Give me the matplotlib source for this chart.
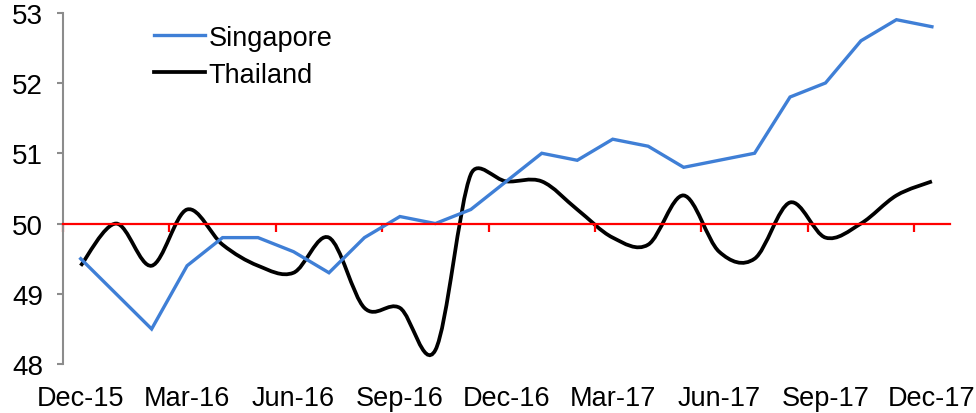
import numpy as np
import matplotlib
matplotlib.use("Agg")
import matplotlib.pyplot as plt
from matplotlib.path import Path
from matplotlib.patches import PathPatch
from matplotlib.lines import Line2D

plt.rcParams['font.family'] = ['Liberation Sans', 'DejaVu Sans']

months = ["Dec-15", "Jan-16", "Feb-16", "Mar-16", "Apr-16", "May-16", "Jun-16",
          "Jul-16", "Aug-16", "Sep-16", "Oct-16", "Nov-16", "Dec-16",
          "Jan-17", "Feb-17", "Mar-17", "Apr-17", "May-17", "Jun-17",
          "Jul-17", "Aug-17", "Sep-17", "Oct-17", "Nov-17", "Dec-17"]
singapore = [49.5, 49.0, 48.5, 49.4, 49.8, 49.8, 49.6, 49.3, 49.8, 50.1, 50.0, 50.2,
             50.6, 51.0, 50.9, 51.2, 51.1, 50.8, 50.9, 51.0, 51.8, 52.0, 52.6, 52.9, 52.8]
thailand = [49.4, 50.0, 49.4, 50.2, 49.7, 49.4, 49.3, 49.8, 48.8, 48.8, 48.2, 50.7,
            50.6, 50.6, 50.2, 49.8, 49.7, 50.4, 49.6, 49.5, 50.3, 49.8, 50.0, 50.4, 50.6]
label_every = 3
ref_level = 50


def smooth_path(ax, x, y):
    """
    Bezier path close to Excel's smoothed line: Catmull-Rom tangents (1/6),
    limited to half the segment length, worked out in pixel space.
    """
    pts = ax.transData.transform(np.column_stack([x, y]).astype(float))
    ext = np.vstack([pts[0], pts, pts[-1]])
    verts = [pts[0]]
    codes = [Path.MOVETO]
    for i in range(len(pts) - 1):
        p0, p1, p2, p3 = ext[i], ext[i + 1], ext[i + 2], ext[i + 3]
        d12 = np.hypot(*(p2 - p1))
        t1 = (p2 - p0) / 6.0
        t2 = (p3 - p1) / 6.0
        for t in (t1, t2):
            n = np.hypot(*t)
            if n > d12 / 2 and n > 0:
                t *= (d12 / 2) / n
        verts += [p1 + t1, p2 - t2, p2]
        codes += [Path.CURVE4] * 3
    verts = ax.transData.inverted().transform(np.array(verts))
    return Path(verts, codes)


fig = plt.figure(figsize=(9.76, 4.14), dpi=100)
ax = fig.add_axes([0.0645, 0.118, 0.9085, 0.849])

x = np.arange(len(months))
ax.set_xlim(-0.5, len(months) - 0.5)
ax.set_ylim(48, 53)
ax.set_yticks(range(48, 54))

ax.plot(x, singapore, color='#3f7fd6', lw=2.4, solid_joinstyle='miter', label='Singapore')
ax.add_patch(PathPatch(smooth_path(ax, x, thailand), fill=False, edgecolor='black', lw=2.7))

# red reference axis at 50 with category boundary ticks
ax.spines['bottom'].set_position(('data', ref_level))
ax.spines['bottom'].set_color('#ff0000')
ax.spines['bottom'].set_linewidth(1.6)
ax.spines['top'].set_visible(False)
ax.spines['right'].set_visible(False)
ax.spines['left'].set_color('#8c8c8c')
ax.spines['left'].set_linewidth(1.5)

ax.set_xticks(np.arange(-0.5, len(months), label_every))
ax.set_xticklabels([])
ax.tick_params(axis='x', direction='out', length=5.5, width=1.6, color='#ff0000')
ax.tick_params(axis='y', direction='out', length=4.3, width=1.5, color='#8c8c8c',
               labelsize=20, pad=10)

sec = ax.secondary_xaxis('bottom')
sec.set_xticks(x[::label_every])
sec.set_xticklabels(months[::label_every])
sec.spines['bottom'].set_visible(False)
sec.tick_params(length=0, labelsize=19.5, pad=15)

handles = [Line2D([], [], color='#3f7fd6', lw=2.4), Line2D([], [], color='black', lw=2.7)]
ax.legend(handles, ['Singapore', 'Thailand'], loc='upper left', bbox_to_anchor=(0.075, 1.035),
          frameon=False, fontsize=19.5, handlelength=1.9, handletextpad=0.12, labelspacing=0.4)

fig.savefig('out.png', dpi=100)
